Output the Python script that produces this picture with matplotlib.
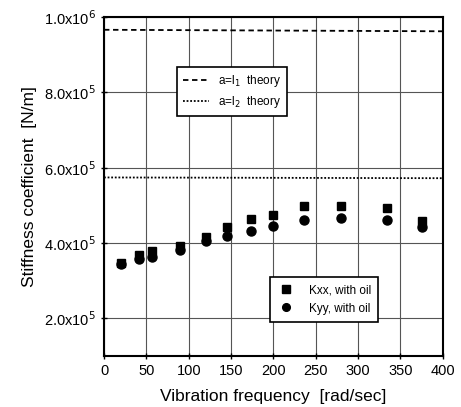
import matplotlib
matplotlib.use("Agg")
import matplotlib.pyplot as plt
from matplotlib.ticker import FixedLocator

plt.rcParams['font.family'] = ['Liberation Sans', 'DejaVu Sans']

freq = [20, 41, 57, 90, 121, 145, 173, 200, 236, 280, 334, 375]
kxx = [3.48e5, 3.68e5, 3.79e5, 3.92e5, 4.16e5, 4.42e5, 4.65e5, 4.73e5, 4.99e5, 4.99e5, 4.94e5, 4.58e5]
kyy = [3.45e5, 3.57e5, 3.63e5, 3.82e5, 4.05e5, 4.19e5, 4.33e5, 4.44e5, 4.60e5, 4.66e5, 4.61e5, 4.43e5]

theory_x = [0, 400]
theory_l1 = [9.66e5, 9.62e5]
theory_l2 = [5.74e5, 5.72e5]

xticks = [0, 50, 100, 150, 200, 250, 300, 350, 400]
yticks = [2e5, 4e5, 6e5, 8e5, 1e6]
ytick_labels = ['2.0x10$^5$', '4.0x10$^5$', '6.0x10$^5$', '8.0x10$^5$', '1.0x10$^6$']

fig = plt.figure(figsize=(4.61, 4.07), dpi=100)
ax = fig.add_axes([0.2256, 0.1253, 0.735, 0.833])

l1, = ax.plot(theory_x, theory_l1, color='black', lw=1.3, linestyle=(0, (3, 2)), label='a=l$_1$  theory')
l2, = ax.plot(theory_x, theory_l2, color='black', lw=1.3, linestyle=(0, (1, 1)), label='a=l$_2$  theory')
s1, = ax.plot(freq, kxx, 's', color='black', ms=6, label='Kxx, with oil')
s2, = ax.plot(freq, kyy, 'o', color='black', ms=6.5, label='Kyy, with oil')

ax.set_xlim(0, 400)
ax.set_ylim(1e5, 1e6)
ax.xaxis.set_major_locator(FixedLocator(xticks))
ax.set_yticks(yticks)
ax.set_yticklabels(ytick_labels)
ax.tick_params(direction='inout', length=5, width=1, labelsize=10.5)
ax.grid(True, color='#555555', lw=0.8)
for sp in ax.spines.values():
    sp.set_linewidth(1.5)

ax.set_xlabel('Vibration frequency  [rad/sec]', fontsize=12.5, labelpad=8)
ax.set_ylabel('Stiffness coefficient  [N/m]', fontsize=12.5, labelpad=5)

leg1 = ax.legend(handles=[l1, l2], loc='upper left', bbox_to_anchor=(0.215, 0.853),
                 borderaxespad=0, frameon=True, fancybox=False, edgecolor='black', framealpha=1,
                 fontsize=8.5, handlelength=2.2, borderpad=0.5, labelspacing=0.45)
leg1.get_frame().set_linewidth(1.2)
ax.add_artist(leg1)
leg2 = ax.legend(handles=[s1, s2], loc='upper left', bbox_to_anchor=(0.49, 0.233),
                 borderaxespad=0, frameon=True, fancybox=False, edgecolor='black', framealpha=1,
                 fontsize=8.5, handlelength=1.5, handletextpad=1.2, markerscale=0.85,
                 borderpad=0.6, labelspacing=0.55)
leg2.get_frame().set_linewidth(1.2)

fig.savefig('out.png', dpi=100)
